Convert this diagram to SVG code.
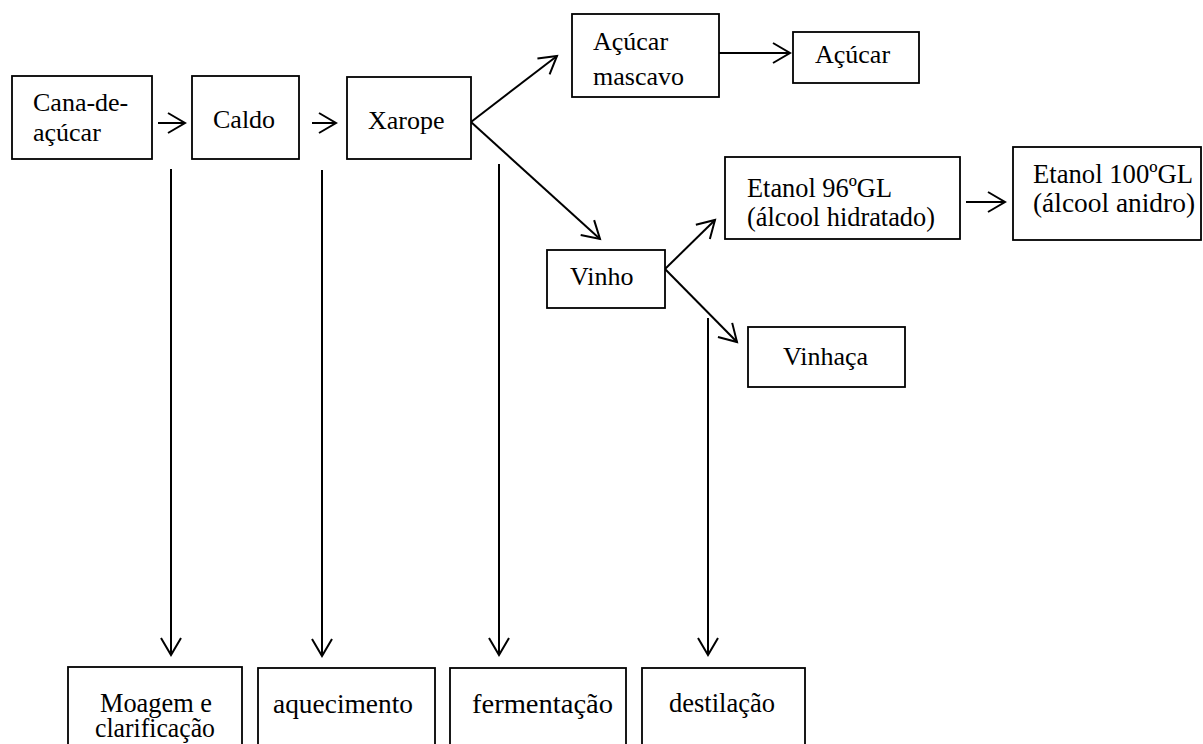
<svg xmlns="http://www.w3.org/2000/svg" width="1203" height="744" viewBox="0 0 1203 744">
<style>
.box{fill:#fff;stroke:#000;stroke-width:1.8}
.t{font-family:"Liberation Serif","Times New Roman",serif;font-size:26px;fill:#000}
.tt{font-family:"Liberation Serif","Times New Roman",serif;font-size:28px;fill:#000}
.c{fill:none;stroke:#000;stroke-width:2}
</style>
<defs>
<marker id="ah" markerUnits="userSpaceOnUse" markerWidth="22" markerHeight="24" refX="18" refY="11" orient="auto" overflow="visible">
<path d="M1,1 L18,11 L1,21" fill="none" stroke="#000" stroke-width="2"/>
</marker>
</defs>
<g id="connectors">
<line class="c" x1="158" y1="123" x2="185" y2="123" marker-end="url(#ah)"/>
<line class="c" x1="312" y1="123" x2="336" y2="123" marker-end="url(#ah)"/>
<line class="c" x1="471" y1="122" x2="557" y2="56" marker-end="url(#ah)"/>
<line class="c" x1="471" y1="122" x2="600" y2="239" marker-end="url(#ah)"/>
<line class="c" x1="719" y1="53" x2="790" y2="53" marker-end="url(#ah)"/>
<line class="c" x1="665" y1="269" x2="715" y2="220" marker-end="url(#ah)"/>
<line class="c" x1="665" y1="269" x2="737" y2="342" marker-end="url(#ah)"/>
<line class="c" x1="966" y1="202" x2="1005" y2="202" marker-end="url(#ah)"/>
<line class="c" x1="171" y1="169" x2="171" y2="655" marker-end="url(#ah)"/>
<line class="c" x1="322" y1="170" x2="322" y2="656" marker-end="url(#ah)"/>
<line class="c" x1="499" y1="164" x2="499" y2="655" marker-end="url(#ah)"/>
<line class="c" x1="708" y1="318" x2="708" y2="655" marker-end="url(#ah)"/>
</g>
<g id="cana"><rect class="box" x="12" y="76" width="140" height="83"/><text class="t" x="33" y="111">Cana-de-</text><text class="t" x="33" y="141">açúcar</text></g>
<g id="caldo"><rect class="box" x="192" y="76" width="107" height="83"/><text class="t" x="213" y="128">Caldo</text></g>
<g id="xarope"><rect class="box" x="347" y="77" width="124" height="82"/><text class="t" x="368" y="129">Xarope</text></g>
<g id="mascavo"><rect class="box" x="572" y="14" width="147" height="83"/><text class="t" x="593" y="50">Açúcar</text><text class="t" x="593" y="85">mascavo</text></g>
<g id="acucar"><rect class="box" x="793" y="32" width="126" height="51"/><text class="t" x="815" y="63">Açúcar</text></g>
<g id="etanol96"><rect class="box" x="725" y="157" width="235" height="82"/><text class="tt" x="747" y="197" textLength="145" lengthAdjust="spacingAndGlyphs">Etanol 96ºGL</text><text class="tt" x="747" y="226" textLength="188" lengthAdjust="spacingAndGlyphs">(álcool hidratado)</text></g>
<g id="etanol100"><rect class="box" x="1013" y="147" width="188" height="93"/><text class="tt" x="1033" y="183" textLength="160" lengthAdjust="spacingAndGlyphs">Etanol 100ºGL</text><text class="tt" x="1033" y="212" textLength="162" lengthAdjust="spacingAndGlyphs">(álcool anidro)</text></g>
<g id="vinho"><rect class="box" x="547" y="250" width="118" height="58"/><text class="t" x="570" y="285">Vinho</text></g>
<g id="vinhaca"><rect class="box" x="748" y="327" width="157" height="60"/><text class="t" x="783" y="365">Vinhaça</text></g>
<g id="moagem"><rect class="box" x="68" y="667" width="174" height="90"/><text class="tt" x="100" y="712" textLength="112" lengthAdjust="spacingAndGlyphs">Moagem e</text><text class="tt" x="95" y="737" textLength="120" lengthAdjust="spacingAndGlyphs">clarificação</text></g>
<g id="aquecimento"><rect class="box" x="258" y="668" width="177" height="90"/><text class="tt" x="273" y="713" textLength="140" lengthAdjust="spacingAndGlyphs">aquecimento</text></g>
<g id="fermentacao"><rect class="box" x="450" y="668" width="176" height="90"/><text class="tt" x="472" y="713" textLength="141" lengthAdjust="spacingAndGlyphs">fermentação</text></g>
<g id="destilacao"><rect class="box" x="642" y="668" width="163" height="90"/><text class="tt" x="669" y="712" textLength="106" lengthAdjust="spacingAndGlyphs">destilação</text></g>
</svg>
